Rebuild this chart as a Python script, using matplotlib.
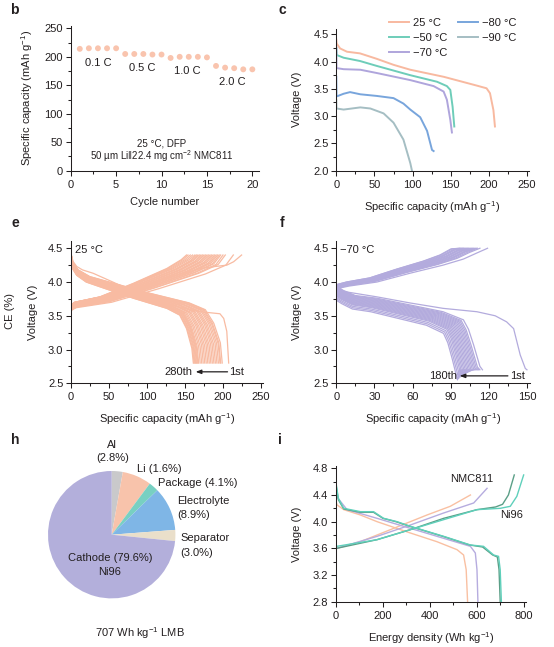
import numpy as np
import matplotlib
matplotlib.use("Agg")
import matplotlib.pyplot as plt
from matplotlib.ticker import MultipleLocator, FormatStrFormatter

plt.rcParams.update({
    "font.family": ["Liberation Sans", "DejaVu Sans"],
    "font.size": 8,
    "mathtext.fontset": "custom",
    "mathtext.rm": "Liberation Sans",
    "mathtext.it": "Liberation Sans:italic",
    "axes.linewidth": 0.75,
    "axes.edgecolor": "#231f20",
    "xtick.major.size": 3.5, "ytick.major.size": 3.5,
    "xtick.minor.size": 2.0, "ytick.minor.size": 2.0,
    "xtick.major.width": 0.75, "ytick.major.width": 0.75,
    "xtick.minor.width": 0.75, "ytick.minor.width": 0.75,
    "xtick.major.pad": 3, "ytick.major.pad": 2,
    "text.color": "#231f20", "xtick.color": "#231f20", "ytick.color": "#231f20",
    "axes.labelcolor": "#231f20",
})

# ---------------- data ----------------
# panel b
cycles_b = list(range(1, 21))
capacity_b = [214, 215, 215, 215, 215, 205, 205, 205, 204, 204,
              198, 200, 200, 200, 199, 184, 181, 180, 178, 178]
rate_labels = ["0.1 C", "0.5 C", "1.0 C", "2.0 C"]
rate_x = [3.0, 7.9, 12.8, 17.8]
rate_y = [190, 180, 175, 155]

# panel c
c_labels = ["25 °C", "−50 °C", "−70 °C", "−80 °C", "−90 °C"]
c_25_x = [0, 0.5, 5, 14, 31, 53, 75, 97, 141, 184, 197, 201.5, 206, 208]
c_25_v = [4.40, 4.33, 4.24, 4.18, 4.15, 4.05, 3.94, 3.85, 3.72, 3.56, 3.51, 3.42, 3.11, 2.81]
c_50_x = [0, 0.5, 9.6, 31, 53, 97, 132, 145, 149.5, 152.5, 154.7]
c_50_v = [4.25, 4.12, 4.07, 4.01, 3.92, 3.75, 3.63, 3.55, 3.48, 3.17, 2.81]
c_70_x = [0, 0.3, 9.6, 31.5, 53, 97, 127.6, 140.7, 145, 149.5, 151.6]
c_70_v = [4.26, 3.88, 3.86, 3.85, 3.79, 3.66, 3.55, 3.45, 3.30, 2.93, 2.70]
c_80_x = [0, 0.3, 9.6, 18, 31.5, 53, 75, 88, 97, 110, 119, 125.5, 127.6]
c_80_v = [3.72, 3.36, 3.41, 3.44, 3.40, 3.37, 3.33, 3.23, 3.12, 2.98, 2.73, 2.38, 2.36]
c_90_x = [0, 0.3, 9.6, 31.5, 44.6, 62, 75, 88, 97, 99.2]
c_90_v = [3.30, 3.14, 3.12, 3.16, 3.14, 3.05, 2.88, 2.57, 2.14, 2.0]

# panel e (25 °C cycling): first-cycle shapes and later-cycle shape
e_dis1_x = [0, 3, 7.5, 15, 29, 55, 82, 126, 170, 196, 201, 205, 207.5]
e_dis1_v = [4.40, 4.30, 4.23, 4.18, 4.13, 4.00, 3.86, 3.67, 3.56, 3.53, 3.46, 3.27, 2.80]
e_dis2_x = [0, 2, 7.5, 20, 38, 82, 126, 143, 152, 159, 161]
e_dis2_v = [4.35, 4.20, 4.10, 4.00, 3.93, 3.76, 3.61, 3.51, 3.31, 3.02, 2.80]
e_dis_caps = [199, 197, 196, 194, 192, 190, 188, 186, 184, 182, 180, 178, 176,
              174, 172, 170, 168, 167, 166, 165, 164, 163, 162, 161]
e_dis_offs = [0.08, 0.08, 0.07, 0.07, 0.07, 0.06, 0.06, 0.06, 0.05, 0.05, 0.05, 0.04,
              0.04, 0.04, 0.03, 0.03, 0.03, 0.02, 0.02, 0.02, 0.01, 0.01, 0.0, 0.0]
e_chg1_x = [0, 0, 3, 15, 38, 82, 126, 170, 190, 205, 214, 224.5]
e_chg1_v = [2.80, 3.56, 3.62, 3.66, 3.69, 3.86, 4.06, 4.20, 4.23, 4.25, 4.30, 4.40]
e_chg2_x = [0, 5, 38, 82, 126, 145, 152]
e_chg2_v = [3.66, 3.70, 3.78, 3.98, 4.20, 4.33, 4.40]
e_chg_caps = [213.6, 203, 200, 197, 195, 193, 191, 189, 187, 185, 183, 181, 179,
              177, 175, 173, 171, 169, 167, 165, 163, 160, 157, 154, 152]
e_chg_offs = [-0.08, -0.07, -0.07, -0.06, -0.06, -0.05, -0.05, -0.05, -0.04, -0.04,
              -0.04, -0.03, -0.03, -0.03, -0.02, -0.02, -0.02, -0.01, -0.01, -0.01,
              0.0, 0.0, 0.0, 0.0, 0.0]

# panel f (−70 °C cycling)
f_dis1_x = [0, 0, 5.8, 32, 58, 84, 110.6, 125, 134, 139.5, 144.7, 148.7, 150]
f_dis1_v = [4.30, 3.96, 3.86, 3.78, 3.69, 3.61, 3.56, 3.50, 3.41, 3.31, 2.92, 2.72, 2.70]
f_dis2_x = [0, 5, 15, 32, 58, 84, 100, 104, 108, 113, 115]
f_dis2_v = [3.93, 3.88, 3.80, 3.76, 3.66, 3.56, 3.44, 3.30, 3.07, 2.75, 2.70]
f_dis_caps = [115, 113, 112, 111, 110, 109, 108, 107, 106, 105, 104, 103, 102, 101,
              100, 99, 98, 97]
f_dis_offs = [0.0, -0.01, -0.02, -0.03, -0.04, -0.05, -0.06, -0.07, -0.08, -0.09,
              -0.10, -0.11, -0.12, -0.13, -0.14, -0.16, -0.18, -0.20]
f_chg_x = [0, 10, 32, 58, 84, 100, 110.6, 119]
f_chg_v = [3.90, 3.94, 4.00, 4.13, 4.25, 4.34, 4.43, 4.50]
f_chg_caps = [119, 113, 111, 110, 109, 108, 107, 106, 105, 104, 103, 102, 101, 100,
              99, 98, 97]
f_chg_offs = [0.0, 0.01, 0.01, 0.02, 0.02, 0.02, 0.03, 0.03, 0.03, 0.04, 0.04, 0.04,
              0.05, 0.05, 0.05, 0.06, 0.06]

# panel h
pie_labels = ["Al", "Li", "Package", "Electrolyte", "Separator", "Cathode"]
pie_values = [2.8, 7.4, 2.5, 11.1, 2.8, 73.4]
pie_colors = ["#c9c9cb", "#f8c3ab", "#78d0c2", "#7fb6e6", "#eadfca", "#b3afdb"]

# panel i
i_s_dis_x = [0, 5, 33, 104, 175, 317, 430, 516, 544, 555, 561]
i_s_dis_v = [4.30, 4.25, 4.18, 4.10, 4.00, 3.83, 3.70, 3.58, 3.50, 3.28, 2.80]
i_s_chg_x = [0, 3, 104, 246, 388, 487, 573]
i_s_chg_v = [3.58, 3.60, 3.70, 3.90, 4.10, 4.23, 4.40]
i_l_dis_x = [0, 2, 47, 175, 317, 459, 573, 594, 601, 605]
i_l_dis_v = [4.50, 4.38, 4.18, 4.05, 3.90, 3.75, 3.63, 3.53, 3.28, 2.80]
i_l_chg_x = [0, 3, 175, 317, 459, 587, 644]
i_l_chg_v = [3.58, 3.60, 3.78, 3.95, 4.13, 4.28, 4.50]
i_t_dis_x = [0, 10, 33, 104, 160, 203, 260, 317, 459, 573, 629, 672, 693, 700, 705]
i_t_dis_v = [4.58, 4.35, 4.20, 4.15, 4.15, 4.05, 4.00, 3.93, 3.78, 3.65, 3.63, 3.50, 3.48, 3.28, 2.80]
i_t_chg_x = [0, 3, 175, 317, 459, 601, 700, 743, 771, 800]
i_t_chg_v = [3.60, 3.63, 3.73, 3.88, 4.03, 4.18, 4.20, 4.23, 4.38, 4.70]
i_g_dis_x = [0, 10, 33, 104, 160, 200, 255, 315, 455, 570, 625, 668, 688, 695, 700]
i_g_dis_v = [4.55, 4.33, 4.19, 4.14, 4.14, 4.05, 4.00, 3.93, 3.78, 3.65, 3.62, 3.50, 3.47, 3.28, 2.80]
i_g_chg_x = [0, 3, 175, 317, 459, 601, 680, 710, 735, 760]
i_g_chg_v = [3.58, 3.60, 3.73, 3.88, 4.05, 4.18, 4.22, 4.26, 4.40, 4.70]

# ---------------- figure ----------------
W, H = 554, 647
fig = plt.figure(figsize=(W / 100, H / 100), dpi=100)
XPAD, YPAD = 6.5, 8.0


def add_ax(l, b, r, t):
    return fig.add_axes([l / W, 1 - b / H, (r - l) / W, (b - t) / H])


def style(ax, xmaj, xmin, ymaj, ymin):
    for s in ("top", "right"):
        ax.spines[s].set_visible(False)
    ax.xaxis.set_major_locator(MultipleLocator(xmaj))
    ax.xaxis.set_minor_locator(MultipleLocator(xmin))
    ax.yaxis.set_major_locator(MultipleLocator(ymaj))
    ax.yaxis.set_minor_locator(MultipleLocator(ymin))
    ax.tick_params(which="both", direction="out")


cap_label = "Specific capacity (mAh g$^{\\mathregular{-1}}$)"

# ---- b ----
axb = add_ax(70.7, 170.7, 258.7, 25.5)
axb.scatter(cycles_b, capacity_b, s=18, color="#f9c4ae", edgecolors="none", zorder=3)
axb.set_xlim(0, 20.7)
axb.set_ylim(0, 255)
style(axb, 5, 2.5, 50, 25)
axb.set_xlabel("Cycle number", labelpad=XPAD - 1)
axb.set_ylabel(cap_label, labelpad=YPAD - 1)
for t, x, y in zip(rate_labels, rate_x, rate_y):
    axb.text(x, y, t, ha="center", va="center", fontsize=8)
axb.text(10, 47, "25 °C, DFP", ha="center", va="center", fontsize=7)
axb.text(10, 25, "50 µm Li‖22.4 mg cm$^{\\mathregular{-2}}$ NMC811", ha="center",
         va="center", fontsize=7)

# ---- c ----
axc = add_ax(336.3, 170.7, 528.5, 28.8)
c_cols = ["#f8b9a0", "#6ecdb9", "#afa5dc", "#78a5dc", "#a5bec3"]
c_xs = [c_25_x, c_50_x, c_70_x, c_80_x, c_90_x]
c_vs = [c_25_v, c_50_v, c_70_v, c_80_v, c_90_v]
handles = []
for xs, vs, col, lab in zip(c_xs, c_vs, c_cols, c_labels):
    h, = axc.plot(xs, vs, color=col, lw=1.4, label=lab, solid_joinstyle="round")
    handles.append(h)
axc.set_xlim(0, 252)
axc.set_ylim(2.0, 4.6)
style(axc, 50, 25, 0.5, 0.25)
axc.yaxis.set_major_formatter(FormatStrFormatter("%.1f"))
axc.set_xlabel(cap_label, labelpad=XPAD)
axc.set_ylabel("Voltage (V)", labelpad=YPAD)
fig.legend(handles=handles, loc="upper left", bbox_to_anchor=(389 / W, 1 - 18 / H),
           ncol=2, frameon=False, fontsize=8, handlelength=1.8, handletextpad=0.35,
           columnspacing=1.0, labelspacing=0.45, borderpad=0, borderaxespad=0)

# ---- e ----
axe = add_ax(71, 383.3, 262.5, 241.5)
ecol = "#f8bba2"
lw_e = 0.9
axe.plot(e_dis1_x, e_dis1_v, color=ecol, lw=lw_e)
axe.plot(e_chg1_x, e_chg1_v, color=ecol, lw=lw_e)
for cap, off in zip(e_dis_caps, e_dis_offs):
    xs = np.array(e_dis2_x) * cap / e_dis2_x[-1]
    vs = np.array(e_dis2_v) + off
    vs[-1] = e_dis2_v[-1]
    axe.plot(xs, vs, color=ecol, lw=lw_e)
for cap, off in zip(e_chg_caps, e_chg_offs):
    xs = np.array(e_chg2_x) * cap / e_chg2_x[-1]
    vs = np.array(e_chg2_v) + off
    vs[-1] = e_chg2_v[-1]
    axe.plot(xs, vs, color=ecol, lw=lw_e)
axe.set_xlim(0, 252)
axe.set_ylim(2.5, 4.6)
style(axe, 50, 25, 0.5, 0.25)
axe.yaxis.set_major_formatter(FormatStrFormatter("%.1f"))
axe.set_xlabel(cap_label, labelpad=XPAD)
axe.set_ylabel("Voltage (V)", labelpad=YPAD - 1)
axe.text(5, 4.47, "25 °C", ha="left", va="center", fontsize=8)
axe.annotate("", xy=(164, 2.67), xytext=(206, 2.67),
             arrowprops=dict(arrowstyle="-|>,head_length=0.4,head_width=0.15",
                             color="#231f20", lw=0.9, shrinkA=0, shrinkB=0))
axe.text(160, 2.67, "280th", ha="right", va="center", fontsize=8)
axe.text(208, 2.67, "1st", ha="left", va="center", fontsize=8)
fig.text(10 / W, 1 - 311 / H, "CE (%)", rotation=90, ha="center", va="center", fontsize=8)

# ---- f ----
axf = add_ax(336.3, 383.3, 529.5, 241.5)
fcol = "#b3abdd"
lw_f = 0.9
axf.plot(f_dis1_x, f_dis1_v, color=fcol, lw=lw_f)
for cap, off in zip(f_dis_caps, f_dis_offs):
    xs = np.array(f_dis2_x) * cap / f_dis2_x[-1]
    vs = np.array(f_dis2_v) + off
    vs[-1] = f_dis2_v[-1]
    axf.plot(xs, vs, color=fcol, lw=lw_f)
for k, (cap, off) in enumerate(zip(f_chg_caps, f_chg_offs)):
    xs = np.array(f_chg_x) * cap / f_chg_x[-1]
    vs = np.array(f_chg_v) + off
    vs[-1] = f_chg_v[-1]
    if k == 0:
        xs = np.concatenate([[0], xs])
        vs = np.concatenate([[3.45], vs])
    axf.plot(xs, vs, color=fcol, lw=lw_f)
axf.set_xlim(0, 152)
axf.set_ylim(2.5, 4.6)
style(axf, 30, 15, 0.5, 0.25)
axf.yaxis.set_major_formatter(FormatStrFormatter("%.1f"))
axf.set_xlabel(cap_label, labelpad=XPAD)
axf.set_ylabel("Voltage (V)", labelpad=YPAD)
axf.text(3, 4.47, "−70 °C", ha="left", va="center", fontsize=8)
axf.annotate("", xy=(97, 2.61), xytext=(135, 2.61),
             arrowprops=dict(arrowstyle="-|>,head_length=0.4,head_width=0.15",
                             color="#231f20", lw=0.9, shrinkA=0, shrinkB=0))
axf.text(95, 2.61, "180th", ha="right", va="center", fontsize=8)
axf.text(136.5, 2.61, "1st", ha="left", va="center", fontsize=8)

# ---- h ----
cx, cy, r = 111.7, 534.7, 63.7
axh = add_ax(cx - r, cy + r, cx + r, cy - r)
axh.pie(pie_values, colors=pie_colors, startangle=90, counterclock=False,
        wedgeprops=dict(linewidth=0))
axh.set_xlim(-1, 1)
axh.set_ylim(-1, 1)
axh.axis("off")


def ftext(x, y, s, ha="left", **kw):
    fig.text(x / W, 1 - y / H, s, ha=ha, va="center", fontsize=8, **kw)


ftext(111.7, 445, "Al", ha="center")
ftext(113, 458, "(2.8%)", ha="center")
ftext(137, 469, "Li (1.6%)")
ftext(158, 483, "Package (4.1%)")
ftext(177, 501, "Electrolyte")
ftext(177, 515, "(8.9%)")
ftext(180, 538, "Separator")
ftext(180, 553, "(3.0%)")
ftext(110, 558, "Cathode (79.6%)", ha="center")
ftext(110, 572, "Ni96", ha="center")
ftext(140, 633, "707 Wh kg$^{\\mathregular{-1}}$ LMB", ha="center")

# ---- i ----
axi = add_ax(336, 601.7, 526, 466.3)
s_col, l_col, t_col, g_col = "#f9c0a2", "#b6acdf", "#5fd0bb", "#5b9f87"
lw_i = 1.0
axi.plot(i_s_dis_x, i_s_dis_v, color=s_col, lw=lw_i)
axi.plot(i_s_chg_x, i_s_chg_v, color=s_col, lw=lw_i)
axi.plot(i_l_dis_x, i_l_dis_v, color=l_col, lw=lw_i)
axi.plot(i_l_chg_x, i_l_chg_v, color=l_col, lw=lw_i)
axi.plot(i_g_dis_x, i_g_dis_v, color=g_col, lw=lw_i)
axi.plot(i_g_chg_x, i_g_chg_v, color=g_col, lw=lw_i)
axi.plot(i_t_dis_x, i_t_dis_v, color=t_col, lw=lw_i)
axi.plot(i_t_chg_x, i_t_chg_v, color=t_col, lw=lw_i)
axi.set_xlim(0, 810)
axi.set_ylim(2.8, 4.83)
style(axi, 200, 100, 0.4, 0.2)
axi.yaxis.set_major_formatter(FormatStrFormatter("%.1f"))
axi.set_xlabel("Energy density (Wh kg$^{\\mathregular{-1}}$)", labelpad=XPAD)
axi.set_ylabel("Voltage (V)", labelpad=YPAD)
ftext(471.5, 479, "NMC811", ha="center")
ftext(512, 515, "Ni96", ha="center")

# panel letters
for lt, x, y in [("b", 14, 10), ("c", 282, 10), ("e", 15, 223), ("f", 282, 223),
                 ("h", 15, 440), ("i", 280, 440)]:
    fig.text(x / W, 1 - y / H, lt, fontsize=10, fontweight="bold", ha="center", va="center")

fig.savefig("out.png", dpi=100)
